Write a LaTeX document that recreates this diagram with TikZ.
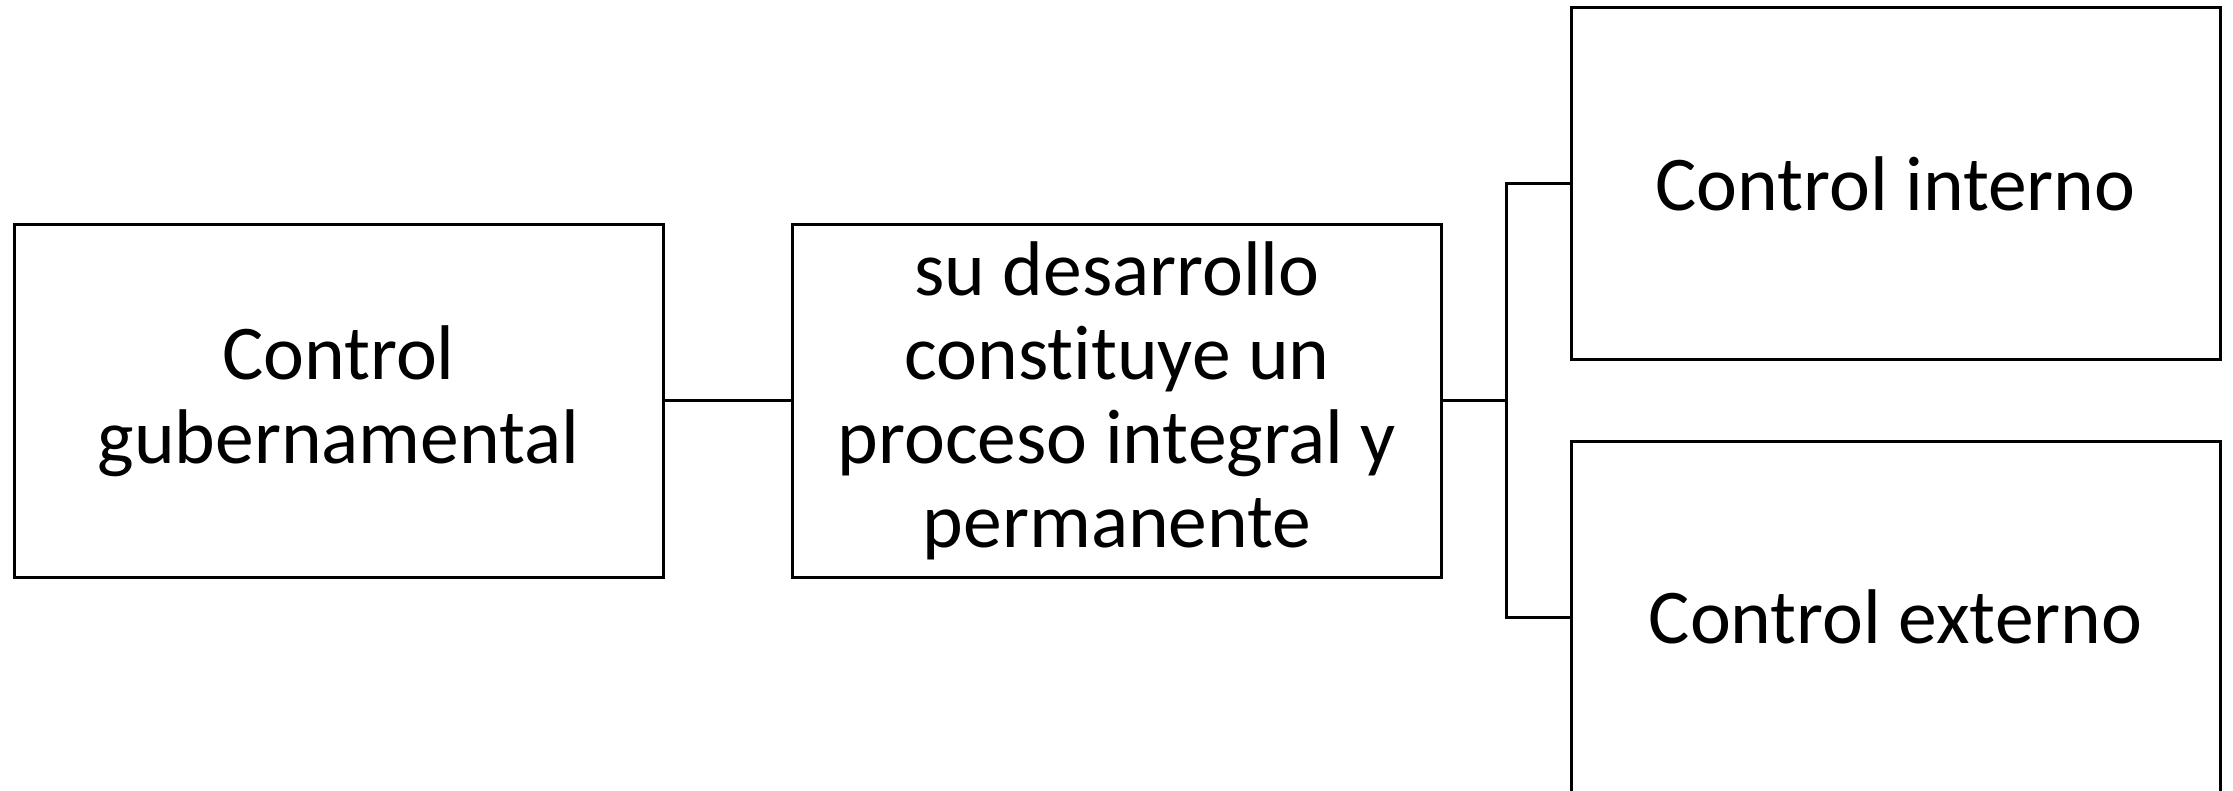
\documentclass[tikz,border=0pt]{standalone}
\usepackage{fontspec}
\setmainfont{Carlito}[Ligatures=NoCommon]
\begin{document}
\begin{tikzpicture}[x=1pt,y=-1pt,
  box/.style={draw=black, line width=3pt, minimum width=649pt, minimum height=352pt, align=center, inner sep=0pt, font=\fontsize{77.5}{84}\selectfont},
  conn/.style={draw=black, line width=3pt}]
\useasboundingbox (0,0) rectangle (2233,791);
\node[box] (A) at (338.5,401) {Control\\gubernamental};
\node[box] (B) at (1117,401) {su desarrollo\\constituye un\\proceso integral y\\permanente};
\node[box] (C) at (1895.5,184) {Control interno};
\node[box] (D) at (1895.5,617) {Control externo};
\coordinate (j) at (1506,401);
\draw[conn] (A.east) -- (B.west);
\draw[conn] (B.east) -- (j);
\draw[conn] (C.west) -| (j);
\draw[conn] (D.west) -| (j);
\end{tikzpicture}
\end{document}
